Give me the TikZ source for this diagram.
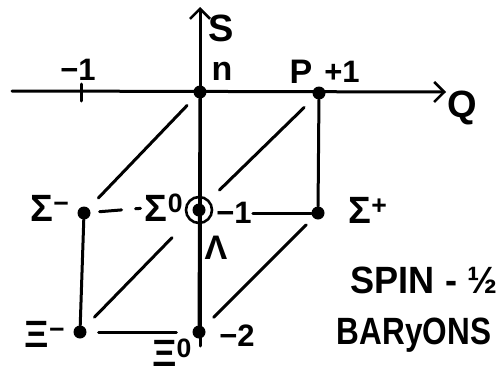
\documentclass[tikz,border=0pt]{standalone}
\usepackage{fontspec}
\setmainfont{Liberation Sans}
\usetikzlibrary{arrows.meta}
\begin{document}
\begin{tikzpicture}[x=1pt,y=-1pt,
  line/.style={line width=3pt, line cap=round},
  axis/.style={line width=3pt, line cap=round},
  dot/.style={circle, fill=black, inner sep=0pt, minimum size=13pt},
  ring/.style={circle, draw=black, line width=2.6pt, inner sep=0pt, minimum size=26pt},
  lab/.style={font=\fontsize{38}{42}\selectfont\bfseries, inner sep=0pt},
  small/.style={font=\fontsize{34}{38}\selectfont\bfseries, inner sep=0pt},
  num/.style={font=\fontsize{31}{34}\selectfont\bfseries, inner sep=0pt},
  tip/.style={-{Straight Barb[length=10pt,width=20pt,line width=2.6pt]}}]
\useasboundingbox (0,0) rectangle (501,375);
% axes
\coordinate (qL) at (12,91);
\coordinate (qR) at (446,92);
\coordinate (sB) at (200,346);
\coordinate (sT) at (200,7);
\coordinate (tkT) at (81,84);
\coordinate (tkB) at (81,101);
\draw[axis,tip] (qL) -- (qR);
\draw[axis,tip] (sB) -- (sT);
\draw[line] (tkT) -- (tkB);
% nodes
\node[dot] (n) at (200,92) {};
\node[dot] (p) at (319,93) {};
\node[dot] (sm) at (84,213) {};
\node[dot] (s0) at (199,210) {};
\node[ring] (s0r) at (199,210) {};
\node[dot] (sp) at (318,213) {};
\node[dot] (xm) at (80,332) {};
\node[dot] (x0) at (199,332) {};
% labels
\node[lab] (lS) at (221,28) {S};
\node[small] (ln) at (222,71) {n};
\node[small] (lP) at (301,72) {P};
\node[num] (lp1) at (342,72) {+1};
\node[num] (lm1) at (78,70) {−1};
\node[lab] (lQ) at (462,108) {Q};
\node[lab] (lsm) at (50,208) {Σ\textsuperscript{−}};
\node[lab] (ls0) at (164,208) {Σ\textsuperscript{0}};
\node[num, fill=white, inner sep=1pt] (lmS) at (234,213) {−1};
\node[small] (lL) at (216,248) {Λ};
\node[lab] (lsp) at (368,210) {Σ\textsuperscript{+}};
\node[lab] (lxm) at (45,334) {Ξ\textsuperscript{−}};
\node[lab] (lx0) at (172,353) {Ξ\textsuperscript{0}};
\node[num] (lm2) at (237,336) {−2};
\node[lab] (spin) at (424,280) {\scalebox{0.95}[1]{SPIN - ½}};
\node[lab] (bary) at (414,335) {\scalebox{0.83}[1]{BARyONS}};
% edges
\draw[line] (n) -- (x0);
\draw[line] (sm) -- (xm);
\draw[line] (p) -- (sp);
\draw[line, shorten <=12pt, shorten >=16pt] (xm) -- (x0);
\draw[line, dash pattern=on 22pt off 14pt on 5pt off 20pt, shorten <=9pt] (sm) -- (ls0.west);
\draw[line] (lmS.east) -- (sp);
\draw[line, shorten <=14pt, shorten >=12pt] (sm) -- (n);
\draw[line, shorten <=14pt, shorten >=32pt] (xm) -- (s0);
\draw[line, shorten <=22pt, shorten >=14pt] (s0) -- (p);
\draw[line, shorten <=14pt, shorten >=10pt] (x0) -- (sp);
\end{tikzpicture}
\end{document}
